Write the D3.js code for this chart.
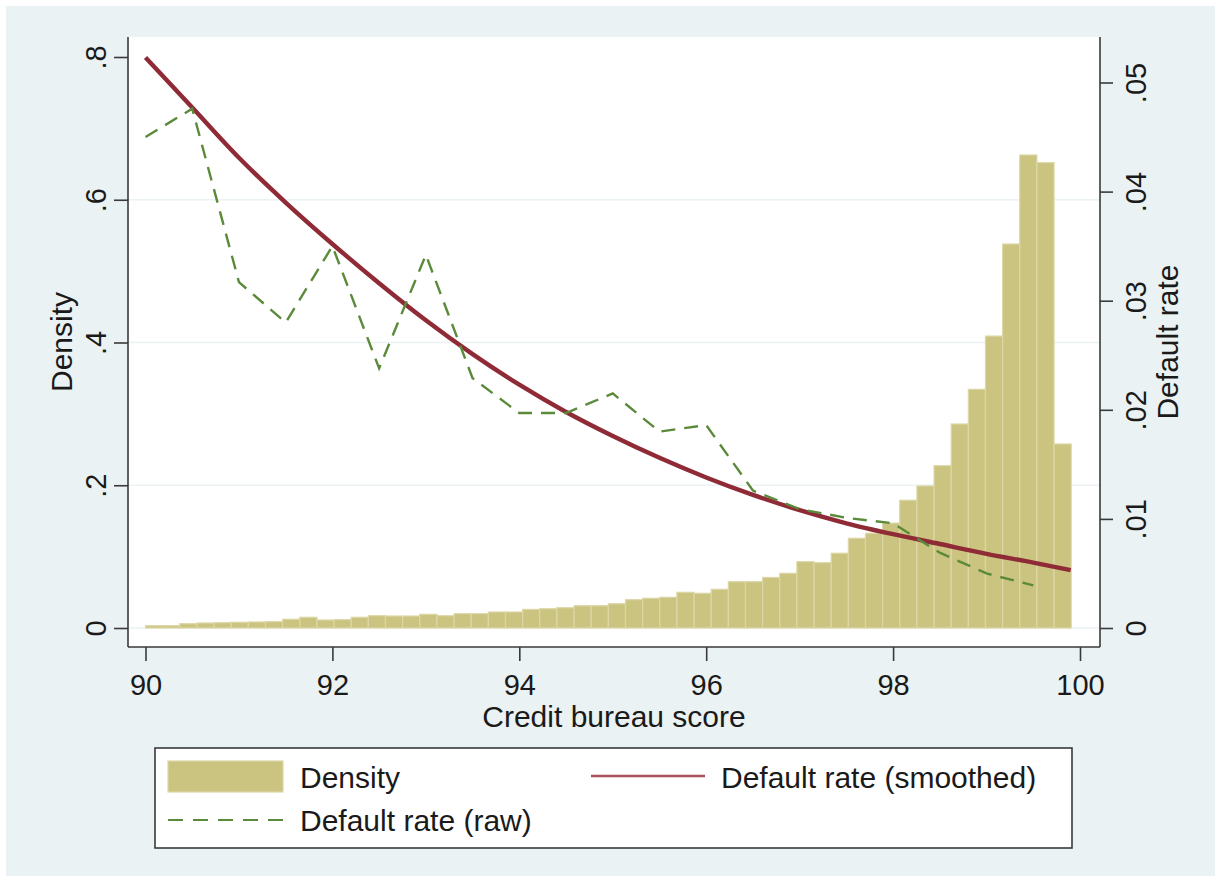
<!DOCTYPE html>
<html>
<head>
<meta charset="utf-8">
<script src="https://cdn.jsdelivr.net/npm/d3@7"></script>
<style>
html, body { margin: 0; padding: 0; background: #ffffff; }
svg { display: block; font-family: "Liberation Sans", Arial, sans-serif; }
</style>
</head>
<body>
<svg id="chart" width="1221" height="882"></svg>
<script>
// ---------------- DATA ----------------
const densityBinStart = 90;
const densityBinWidth = 0.18344;
const density = [
  0.0032, 0.0032, 0.0060, 0.0070, 0.0074, 0.0080, 0.0084, 0.0088, 0.0122, 0.0150,
  0.0112, 0.0116, 0.0150, 0.0172, 0.0168, 0.0168, 0.0192, 0.0172, 0.0200, 0.0200,
  0.0224, 0.0224, 0.0260, 0.0270, 0.0284, 0.0312, 0.0312, 0.0340, 0.0397, 0.0416,
  0.0430, 0.0500, 0.0486, 0.0542, 0.0649, 0.0649, 0.0708, 0.0766, 0.0929, 0.0915,
  0.1047, 0.1257, 0.1327, 0.1470, 0.1790, 0.1990, 0.2274, 0.2858, 0.3344, 0.4090,
  0.5380, 0.6627, 0.6520, 0.2578
];
const rawScores = [90, 90.5, 91, 91.5, 92, 92.5, 93, 93.5, 94, 94.5,
                   95, 95.5, 96, 96.5, 97, 97.5, 98, 98.5, 99, 99.5];
const rawRate = [0.0450, 0.0476, 0.0317, 0.0280, 0.0350, 0.0238, 0.0342, 0.0229, 0.0197, 0.0197,
                 0.0215, 0.0180, 0.0186, 0.0126, 0.0109, 0.0101, 0.0096, 0.0069, 0.0050, 0.0039];
const smoothScores = [90, 90.5, 91, 91.5, 92, 92.5, 93, 93.5, 94, 94.5,
                      95, 95.5, 96, 96.5, 97, 97.5, 98, 98.5, 99, 99.5, 99.9];
const smoothRate = [0.0523, 0.0477, 0.0431, 0.0390, 0.0352, 0.0316, 0.0282, 0.0251, 0.0223, 0.0198,
                    0.0176, 0.0156, 0.0138, 0.0122, 0.0108, 0.0096, 0.0086, 0.0077, 0.0068, 0.0060, 0.0053];
const scoreTicks = [90, 92, 94, 96, 98, 100];
const densityTicks = [0, 0.2, 0.4, 0.6, 0.8];
const densityTickLabels = ["0", ".2", ".4", ".6", ".8"];
const rateTicks = [0, 0.01, 0.02, 0.03, 0.04, 0.05];
const rateTickLabels = ["0", ".01", ".02", ".03", ".04", ".05"];
const gridTicks = [0, 0.2, 0.4, 0.6];
const legendLabels = ["Density", "Default rate (smoothed)", "Default rate (raw)"];
const axisTitles = { x: "Credit bureau score", yLeft: "Density", yRight: "Default rate" };

// ---------------- LAYOUT / STYLE ----------------
const W = 1221, H = 882;
const plot = { left: 128, right: 1100, top: 37, bottom: 647 };
const colors = {
  outer: "#eaf2f3", bar: "#cbc380", barEdge: "#dcd7a6", red: "#8f2b36",
  green: "#5b8a3a", grid: "#eaf2f3", axis: "#3a3a3a", text: "#1a1a1a"
};
const tickFont = 29, titleFont = 30, legendFont = 30;

const svg = d3.select("#chart");

svg.append("rect").attr("x", 6).attr("y", 6).attr("width", W - 12).attr("height", H - 12)
  .attr("fill", colors.outer);
svg.append("rect").attr("x", plot.left).attr("y", plot.top)
  .attr("width", plot.right - plot.left).attr("height", plot.bottom - plot.top)
  .attr("fill", "#ffffff");

const x = d3.scaleLinear().domain([90, 100]).range([145.5, 1080]);
const yL = d3.scaleLinear().domain([0, 0.8]).range([628, 57]);
const yR = d3.scaleLinear().domain([0, 0.05]).range([628, 82.5]);

// gridlines
svg.append("g").selectAll("line").data(gridTicks).join("line")
  .attr("x1", plot.left).attr("x2", plot.right)
  .attr("y1", d => yL(d)).attr("y2", d => yL(d))
  .attr("stroke", colors.grid).attr("stroke-width", 1.6);

// bars
svg.append("g").selectAll("rect").data(density).join("rect")
  .attr("x", (d, i) => x(densityBinStart + i * densityBinWidth))
  .attr("width", (d, i) => x(densityBinStart + (i + 1) * densityBinWidth) - x(densityBinStart + i * densityBinWidth))
  .attr("y", d => yL(d))
  .attr("height", d => yL(0) - yL(d))
  .attr("fill", colors.bar)
  .attr("stroke", colors.barEdge).attr("stroke-width", 1.2);

// smoothed line
const smoothLine = d3.line().x(d => x(d[0])).y(d => yR(d[1])).curve(d3.curveMonotoneX);
svg.append("path").datum(smoothScores.map((s, i) => [s, smoothRate[i]]))
  .attr("d", smoothLine).attr("fill", "none")
  .attr("stroke", colors.red).attr("stroke-width", 4.4);

// raw line
const rawLine = d3.line().x(d => x(d[0])).y(d => yR(d[1]));
svg.append("path").datum(rawScores.map((s, i) => [s, rawRate[i]]))
  .attr("d", rawLine).attr("fill", "none")
  .attr("stroke", colors.green).attr("stroke-width", 2.4)
  .attr("stroke-dasharray", "14,9");

// axes lines
const axisG = svg.append("g").attr("stroke", colors.axis).attr("stroke-width", 1.6);
axisG.append("line").attr("x1", plot.left).attr("x2", plot.left).attr("y1", plot.top).attr("y2", plot.bottom);
axisG.append("line").attr("x1", plot.right).attr("x2", plot.right).attr("y1", plot.top).attr("y2", plot.bottom);
axisG.append("line").attr("x1", plot.left).attr("x2", plot.right).attr("y1", plot.bottom).attr("y2", plot.bottom);

function styleAxis(g) {
  g.select(".domain").remove();
  g.selectAll(".tick line").attr("stroke", colors.axis).attr("stroke-width", 1.6);
  g.selectAll(".tick text").attr("fill", colors.text)
    .attr("font-size", tickFont).attr("font-family", '"Liberation Sans", Arial, sans-serif');
}

// left axis
const gL = svg.append("g").attr("transform", `translate(${plot.left},0)`)
  .call(d3.axisLeft(yL).tickValues(densityTicks).tickSize(14)
    .tickFormat((d, i) => densityTickLabels[i]));
styleAxis(gL);
gL.selectAll(".tick text").attr("transform", "rotate(-90)")
  .attr("x", 0).attr("y", -22).attr("dy", 0).attr("text-anchor", "middle");

// right axis
const gR = svg.append("g").attr("transform", `translate(${plot.right},0)`)
  .call(d3.axisRight(yR).tickValues(rateTicks).tickSize(13)
    .tickFormat((d, i) => rateTickLabels[i]));
styleAxis(gR);
gR.selectAll(".tick text").attr("transform", "rotate(-90)")
  .attr("x", 0).attr("y", 46).attr("dy", 0).attr("text-anchor", "middle");

// bottom axis
const gB = svg.append("g").attr("transform", `translate(0,${plot.bottom})`)
  .call(d3.axisBottom(x).tickValues(scoreTicks).tickSize(14).tickFormat(d3.format("d")));
styleAxis(gB);
gB.selectAll(".tick text").attr("y", 48).attr("dy", 0);

// axis titles
svg.append("text").attr("x", (plot.left + plot.right) / 2).attr("y", 727)
  .attr("text-anchor", "middle").attr("font-size", titleFont).attr("fill", colors.text)
  .text(axisTitles.x);
svg.append("text").attr("transform", `translate(72,${(plot.top + plot.bottom) / 2}) rotate(-90)`)
  .attr("text-anchor", "middle").attr("font-size", titleFont).attr("fill", colors.text)
  .text(axisTitles.yLeft);
svg.append("text").attr("transform", `translate(1178,${(plot.top + plot.bottom) / 2}) rotate(-90)`)
  .attr("text-anchor", "middle").attr("font-size", titleFont).attr("fill", colors.text)
  .text(axisTitles.yRight);

// legend
const lg = svg.append("g");
lg.append("rect").attr("x", 155).attr("y", 748).attr("width", 917).attr("height", 100)
  .attr("fill", "#ffffff").attr("stroke", colors.axis).attr("stroke-width", 1.6);
lg.append("rect").attr("x", 168).attr("y", 761).attr("width", 115).attr("height", 31)
  .attr("fill", colors.bar).attr("stroke", colors.barEdge).attr("stroke-width", 1.2);
lg.append("line").attr("x1", 591).attr("x2", 705).attr("y1", 776).attr("y2", 776)
  .attr("stroke", "#a9505b").attr("stroke-width", 2.6);
lg.append("line").attr("x1", 168).attr("x2", 283).attr("y1", 820).attr("y2", 820)
  .attr("stroke", colors.green).attr("stroke-width", 2.2).attr("stroke-dasharray", "15,10");
const legendPos = [[300, 788], [721, 788], [300, 831]];
lg.selectAll("text.leg").data(legendLabels).join("text").attr("class", "leg")
  .attr("x", (d, i) => legendPos[i][0]).attr("y", (d, i) => legendPos[i][1])
  .attr("font-size", legendFont).attr("fill", colors.text).text(d => d);
</script>
</body>
</html>
